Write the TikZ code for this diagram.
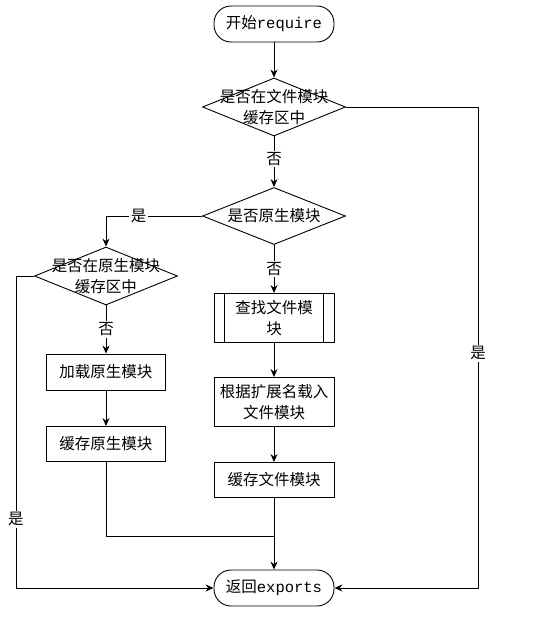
\documentclass[tikz,border=0pt]{standalone}
\usepackage{fontspec}
\setmainfont{Noto Sans CJK SC}
\newfontfamily\latmono{Liberation Mono}
\usetikzlibrary{shapes.geometric,arrows.meta}
\begin{document}
\begin{tikzpicture}[x=1pt,y=-1pt,
  font=\fontsize{15.5}{20.5}\selectfont,
  line width=0.9pt,
  term/.style={draw, rounded corners=17pt, minimum width=120pt, minimum height=36pt, inner sep=2pt},
  dia/.style={draw, diamond, inner sep=0pt, minimum width=143pt, minimum height=58pt},
  stepbox/.style={draw, rectangle, minimum width=120pt, inner sep=3pt, align=center},
  arr/.style={-{Stealth[length=8pt,width=7pt]}},
  lbl/.style={fill=white, inner sep=1.5pt}]
\useasboundingbox[fill=white] (0,0) rectangle (537,622);

\node[term] (start) at (274,24) {开始{\latmono require}};
\node[dia, label={[align=center]center:是否在文件模块\\缓存区中}] (d1) at (274,107) {};
\node[dia, minimum height=57pt, label={center:是否原生模块}] (d2) at (274,216) {};
\node[dia, label={[align=center]center:是否在原生模块\\缓存区中}] (d3) at (106,276) {};
\node[stepbox, minimum width=119pt, minimum height=36pt] (b1) at (106,372) {加载原生模块};
\node[stepbox, minimum width=119pt, minimum height=35pt] (b2) at (106,444) {缓存原生模块};
\node[stepbox, minimum height=49pt] (p1) at (274,318) {查找文件模\\块};
\draw ([xshift=11pt]p1.north west) -- ([xshift=11pt]p1.south west);
\draw ([xshift=-11pt]p1.north east) -- ([xshift=-11pt]p1.south east);
\node[stepbox, minimum height=49pt] (b3) at (274,402) {根据扩展名载入\\文件模块};
\node[stepbox, minimum height=35pt] (b4) at (274,480) {缓存文件模块};
\node[term] (end) at (274,588) {返回{\latmono exports}};

\coordinate (m) at (274,536);
\coordinate (lc) at (16,588);
\coordinate (rc) at (478,588);

\draw[arr] (start) -- (d1);
\draw[arr] (d1.south) -- node[lbl, pos=0.45] {否} (d2.north);
\draw[arr] (d2.west) -| node[lbl, pos=0.33] {是} (d3.north);
\draw[arr] (d2.south) -- node[lbl] {否} (p1.north);
\draw[arr] (d3.south) -- node[lbl] {否} (b1.north);
\draw[arr] (b1) -- (b2);
\draw[arr] (p1) -- (b3);
\draw[arr] (b3) -- (b4);
\draw[arr] (b4) -- (end);
\draw (b2.south) |- (m);
\draw[arr] (d3.west) -| node[lbl, pos=0.89] {是} (lc) -- (end.west);
\draw[arr] (d1.east) -| node[lbl, pos=0.756] {是} (rc) -- (end.east);
\end{tikzpicture}
\end{document}
